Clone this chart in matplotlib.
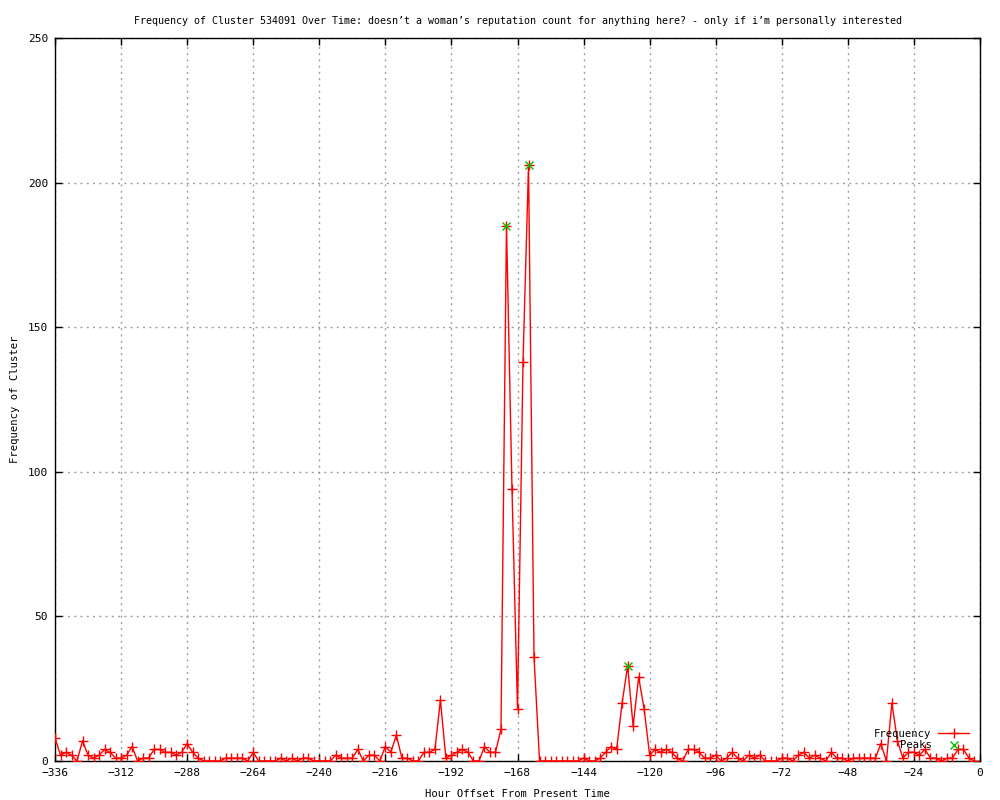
import numpy as np
import matplotlib
matplotlib.use('Agg')
import matplotlib.pyplot as plt

# hours before present, one sample every 2 hours
hours = np.arange(-336, 0, 2)

freq = [8, 2, 3, 2, 0, 7, 2, 1, 2, 4, 3, 1, 1, 2, 5, 0, 1, 1, 4, 4,
        3, 3, 2, 3, 6, 3, 1, 0, 0, 0, 0, 1, 1, 1, 1, 0, 3, 0, 0, 0,
        0, 1, 0, 1, 0, 1, 1, 0, 0, 0, 0, 2, 1, 1, 1, 4, 0, 2, 2, 0,
        5, 3, 9, 1, 1, 0, 0, 3, 3, 4, 21, 1, 2, 3, 4, 3, 0, 0, 5, 3,
        3, 11, 185, 94, 18, 138, 206, 36, 0, 0, 0, 0, 0, 0, 0, 0, 1, 0, 0, 1,
        3, 5, 4, 20, 33, 12, 29, 18, 2, 4, 3, 4, 3, 1, 0, 4, 4, 3, 1, 1,
        2, 0, 1, 3, 1, 0, 2, 1, 2, 0, 0, 0, 1, 1, 0, 2, 3, 1, 2, 1,
        0, 3, 1, 1, 0, 1, 1, 1, 1, 1, 6, 0, 20, 7, 1, 3, 3, 2, 4, 1,
        1, 0, 1, 1, 4, 4, 1, 0]
assert len(freq) == len(hours)

peak_hours = [-172, -164, -128]
peak_vals = [185, 206, 33]

xticks = np.arange(-336, 1, 24)
yticks = np.arange(0, 251, 50)

title = ("Frequency of Cluster 534091 Over Time: doesn\u2019t a woman\u2019s reputation "
         "count for anything here? - only if i\u2019m personally interested")

plt.rcParams['font.family'] = ['DejaVu Sans Mono', 'DejaVu Sans']
plt.rcParams['font.size'] = 8

fig = plt.figure(figsize=(10, 8), dpi=100)
ax = fig.add_axes([0.055, 0.04875, 0.925, 0.90375])

ax.plot(hours, freq, color='red', lw=1.0, marker='+', ms=6.5, mew=1.0,
        label='Frequency', zorder=3)
ax.plot(peak_hours, peak_vals, ls='none', color='#00c000', marker='x',
        ms=5.5, mew=1.0, label='Peaks', zorder=4)

ax.set_xlim(-336, 0)
ax.set_ylim(0, 250)
ax.set_xticks(xticks)
ax.set_yticks(yticks)
ax.tick_params(direction='in', length=5, width=1, top=True, right=True,
               labelsize=8, pad=5)
ax.grid(True, color='#a0a0a0', ls=(0, (1.5, 3)), lw=1)
for s in ax.spines.values():
    s.set_linewidth(1)

ax.set_title(title, fontsize=7.2, pad=10)
ax.set_xlabel('Hour Offset From Present Time', fontsize=7.6, labelpad=8)
ax.set_ylabel('Frequency of Cluster', fontsize=7.6)
ax.yaxis.set_label_coords(-0.038, 0.5)

ax.legend(loc='lower right', markerfirst=False, frameon=False, fontsize=7.6,
          handlelength=3.0, handletextpad=0.6, labelspacing=0.15,
          borderaxespad=0.6)

fig.savefig('out.png', dpi=100)
